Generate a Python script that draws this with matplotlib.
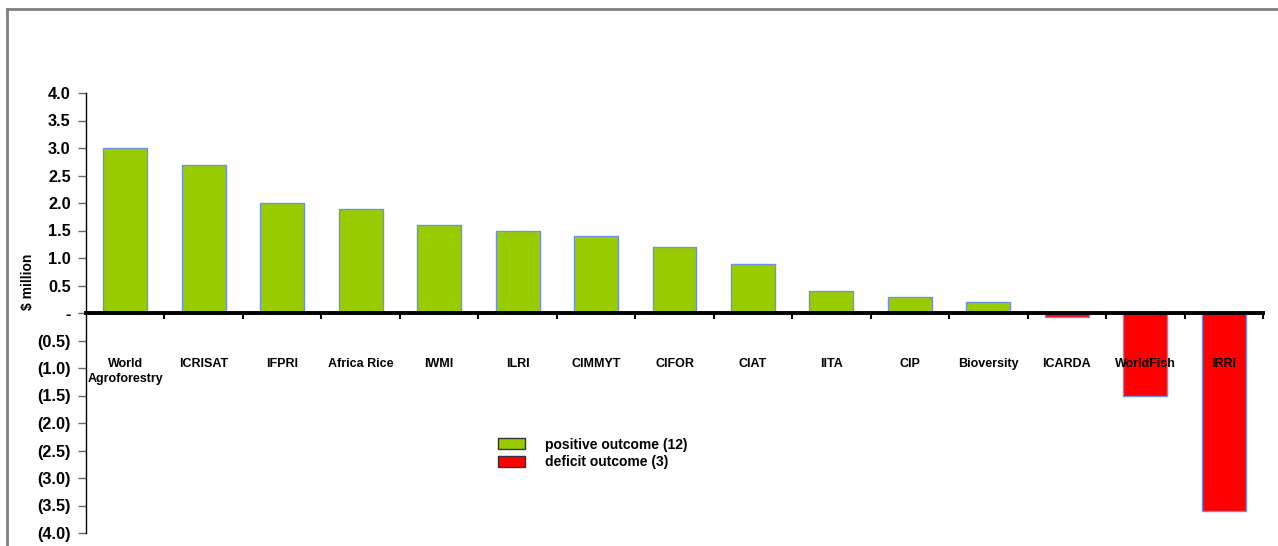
import matplotlib.pyplot as plt
from matplotlib.lines import Line2D
from matplotlib.patches import Patch
from matplotlib.ticker import FuncFormatter

plt.rcParams['font.family'] = ['Liberation Sans', 'DejaVu Sans']
plt.rcParams['font.weight'] = 'bold'

# data
centres = ['World\nAgroforestry', 'ICRISAT', 'IFPRI', 'Africa Rice', 'IWMI', 'ILRI',
           'CIMMYT', 'CIFOR', 'CIAT', 'IITA', 'CIP', 'Bioversity', 'ICARDA',
           'WorldFish', 'IRRI']
outcome = [3.0, 2.7, 2.0, 1.9, 1.6, 1.5, 1.4, 1.2, 0.9, 0.4, 0.3, 0.2, -0.08, -1.5, -3.6]
yticks = [4.0, 3.5, 3.0, 2.5, 2.0, 1.5, 1.0, 0.5, 0.0, -0.5, -1.0, -1.5, -2.0, -2.5,
          -3.0, -3.5, -4.0]

green = '#99CC00'
red = '#FF0000'
edge = '#6F8FE0'

fig = plt.figure(figsize=(12.78, 5.46), dpi=100)
ax = fig.add_axes([86 / 1278, 1 - 533 / 546, (1263 - 86) / 1278, (533 - 93) / 546])

x = list(range(len(centres)))
colours = [green if v >= 0 else red for v in outcome]
ax.bar(x, outcome, width=0.56, color=colours, edgecolor=edge, linewidth=1, zorder=2)

ax.set_xlim(-0.5, len(centres) - 0.5)
ax.set_ylim(-4.0, 4.0)

# x axis sits on zero, ticks mark category boundaries
ax.spines['bottom'].set_position(('data', 0))
ax.spines['bottom'].set_linewidth(2.8)
ax.spines['bottom'].set_zorder(3)
ax.spines['top'].set_visible(False)
ax.spines['right'].set_visible(False)
ax.spines['left'].set_linewidth(1)
ax.set_xticks([i + 0.5 for i in range(len(centres))])
ax.set_xticklabels([])
ax.tick_params(axis='x', direction='out', length=4, width=1.5, color='black')

ax.set_yticks(yticks)


def fmt(v, pos):
    if abs(v) < 1e-9:
        return '-'
    if v < 0:
        return '(%.1f)' % abs(v)
    return '%.1f' % v


ax.yaxis.set_major_formatter(FuncFormatter(fmt))
ax.tick_params(axis='y', direction='out', length=6, width=1, color='#666666',
               labelsize=11.7, pad=5)
for lab in ax.get_yticklabels():
    lab.set_fontweight('bold')

ax.set_ylabel('$ million', fontsize=10, fontweight='bold')
ax.yaxis.set_label_coords(-0.043, 0.57)

for xi, name in zip(x, centres):
    ax.text(xi, -0.82, name, ha='center', va='top', fontsize=9, fontweight='bold',
            linespacing=1.3, zorder=4)

handles = [Patch(facecolor=green, edgecolor='#333333', linewidth=1),
           Patch(facecolor=red, edgecolor='#333333', linewidth=1)]
fig.legend(handles, ['positive outcome (12)', 'deficit outcome (3)'],
           loc='upper left', bbox_to_anchor=(492 / 1278, 1 - 432 / 546),
           frameon=False, prop={'size': 10, 'weight': 'bold'},
           handlelength=1.95, handleheight=0.8, handletextpad=1.45,
           labelspacing=0.25, borderaxespad=0)

# grey frame around the chart area (cut off at right and bottom)
fig.add_artist(Line2D([7 / 1278, 1.0], [1 - 9 / 546, 1 - 9 / 546], color='#808080',
                      linewidth=2, transform=fig.transFigure))
fig.add_artist(Line2D([7 / 1278, 7 / 1278], [1 - 9 / 546, 0.0], color='#808080',
                      linewidth=2, transform=fig.transFigure))

fig.savefig('out.png', dpi=100)
